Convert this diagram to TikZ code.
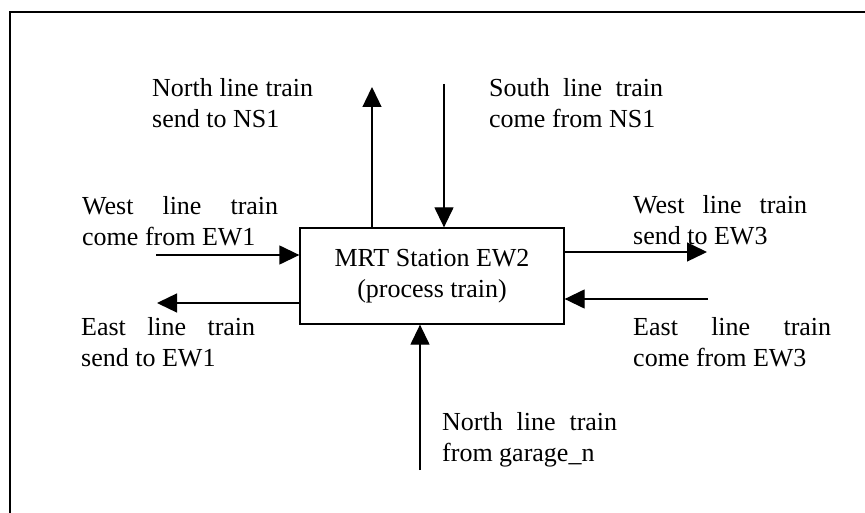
\documentclass[tikz,border=0pt]{standalone}
\usepackage{fontspec}
\setmainfont{Liberation Serif}
\usetikzlibrary{arrows.meta}

% two-line label: first line spread to the given width, second line natural
\newcommand{\twolines}[3]{\vtop{\hbox{\makebox[#1][s]{#2}}\hbox{#3}}}

\tikzset{
  frameline/.style={line width=1.8pt},
  flow/.style={line width=1.3pt, -{Triangle[length=20pt,width=19pt]}},
  station/.style={draw, line width=1.3pt, minimum width=264pt, minimum height=96pt,
    align=center, inner sep=0pt, font=\fontsize{26}{31}\selectfont},
  lbl/.style={anchor=base west, inner sep=0pt, font=\fontsize{26}{31}\selectfont}
}

\begin{document}
\begin{tikzpicture}[x=1pt, y=-1pt]
  \useasboundingbox (0,0) rectangle (865,513);

  % outer frame (top and left edges)
  \draw[frameline] (865,12) -- (10,12) -- (10,513);

  % the station
  \node[station] (box) at (432,276) {MRT Station EW2\\(process train)};

  % free ends of the flows
  \coordinate (nsOut) at (372,87);
  \coordinate (nsIn) at (444,84);
  \coordinate (ew1In) at (156,255);
  \coordinate (ew1Out) at (157,303);
  \coordinate (ew3Out) at (707,252);
  \coordinate (ew3In) at (708,299);
  \coordinate (garIn) at (420,470);

  % flows
  \draw[flow] (nsOut |- box.north) -- (nsOut);
  \draw[flow] (nsIn) -- (nsIn |- box.north);
  \draw[flow] (ew1In) -- (ew1In -| box.west);
  \draw[flow] (ew1Out -| box.west) -- (ew1Out);
  \draw[flow] (ew3Out -| box.east) -- (ew3Out);
  \draw[flow] (ew3In) -- (ew3In -| box.east);
  \draw[flow] (garIn) -- (garIn |- box.south);

  % labels
  \node[lbl] (lNsOut) at (152,97) {\twolines{161pt}{North line train}{send to NS1}};
  \node[lbl] (lNsIn) at (489,97) {\twolines{174pt}{South line train}{come from NS1}};
  \node[lbl] (lEw1In) at (82,215) {\twolines{196pt}{West line train}{come from EW1}};
  \node[lbl] (lEw1Out) at (81,335) {\twolines{174pt}{East line train}{send to EW1}};
  \node[lbl] (lEw3Out) at (633,214) {\twolines{174pt}{West line train}{send to EW3}};
  \node[lbl] (lEw3In) at (633,335) {\twolines{198pt}{East line train}{come from EW3}};
  \node[lbl] (lGar) at (442,430) {\twolines{175pt}{North line train}{from garage\_n}};
\end{tikzpicture}
\end{document}
